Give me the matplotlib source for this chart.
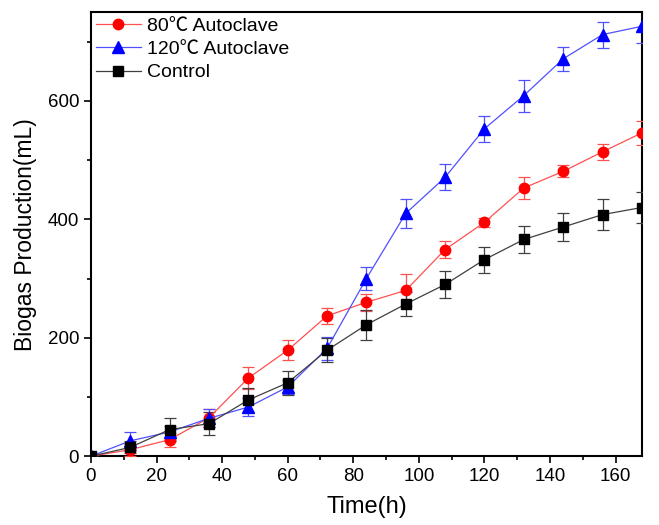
import matplotlib
matplotlib.use("Agg")
import matplotlib.pyplot as plt
from matplotlib.ticker import MultipleLocator
from matplotlib.lines import Line2D

plt.rcParams['font.family'] = ['Liberation Sans', 'Noto Sans CJK SC', 'DejaVu Sans']

time_h = [0, 12, 24, 36, 48, 60, 72, 84, 96, 108, 120, 132, 144, 156, 168]

autoclave80 = [0, 11, 28, 65, 132, 179, 237, 260, 280, 349, 395, 453, 481, 514, 546]
autoclave80_err = [0, 10, 12, 15, 19, 17, 14, 14, 27, 15, 8, 18, 10, 13, 20]

autoclave120 = [0, 26, 41, 64, 83, 117, 182, 300, 410, 471, 553, 609, 671, 712, 726]
autoclave120_err = [0, 15, 10, 15, 15, 12, 20, 19, 25, 22, 22, 27, 20, 22, 29]

control = [0, 15, 45, 55, 95, 124, 179, 222, 257, 290, 332, 366, 387, 408, 420]
control_err = [0, 10, 20, 20, 20, 20, 20, 25, 20, 22, 22, 22, 24, 26, 27]

labels = ["80\u2103 Autoclave", "120\u2103 Autoclave", "Control"]

fig = plt.figure(figsize=(6.59, 5.25), dpi=100)
ax = fig.add_axes([0.138, 0.131, 0.836, 0.846])

series = [
    (autoclave80, autoclave80_err, '#FF0000', '#FF5050', 'o', 7.5, labels[0]),
    (autoclave120, autoclave120_err, '#0000FF', '#5050FF', '^', 8, labels[1]),
    (control, control_err, '#000000', '#404040', 's', 7, labels[2]),
]
handles = []
for vals, errs, col, lcol, mk, ms, lab in series:
    ax.errorbar(time_h, vals, yerr=errs, color=lcol, marker=mk, markersize=ms,
                markerfacecolor=col, markeredgecolor=col,
                linewidth=0.9, elinewidth=0.9, capsize=4, capthick=0.9,
                ecolor=lcol, clip_on=True, zorder=3)
    handles.append(Line2D([], [], color=lcol, linewidth=0.9, marker=mk,
                          markersize=ms, markerfacecolor=col,
                          markeredgecolor=col, label=lab))

ax.set_xlim(0, 168)
ax.set_ylim(0, 750)
ax.xaxis.set_major_locator(MultipleLocator(20))
ax.xaxis.set_minor_locator(MultipleLocator(10))
ax.yaxis.set_major_locator(MultipleLocator(200))
ax.yaxis.set_minor_locator(MultipleLocator(100))
ax.tick_params(axis='both', which='major', direction='out', length=5, width=1.2,
               labelsize=13.5, top=False, right=False)
ax.tick_params(axis='both', which='minor', direction='out', length=3, width=1.2,
               top=False, right=False)
for s in ax.spines.values():
    s.set_linewidth(1.5)

ax.set_xlabel("Time(h)", fontsize=17, labelpad=8)
ax.set_ylabel("Biogas Production(mL)", fontsize=16.5, labelpad=8)

leg = ax.legend(handles=handles, loc='upper left', frameon=False, fontsize=14,
                handlelength=2.3, handletextpad=0.35, borderaxespad=0.15,
                labelspacing=0.3, borderpad=0.1)

fig.savefig("out.png", dpi=100)
